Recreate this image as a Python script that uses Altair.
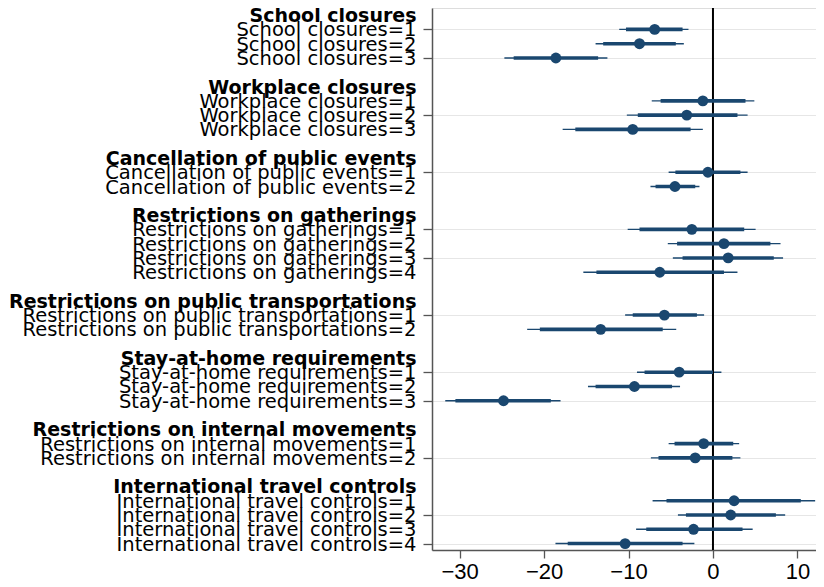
import altair as alt
import pandas as pd

# ---- data ----
groups = [
    "School closures",
    "Workplace closures",
    "Cancellation of public events",
    "Restrictions on gatherings",
    "Restrictions on public transportations",
    "Stay-at-home requirements",
    "Restrictions on internal movements",
    "International travel controls",
]
levels = [3, 3, 2, 4, 2, 3, 2, 4]

estimate = [-6.9, -8.7, -18.6,
            -1.2, -3.1, -9.5,
            -0.6, -4.5,
            -2.5, 1.3, 1.8, -6.3,
            -5.75, -13.3,
            -4.0, -9.3, -24.8,
            -1.1, -2.1,
            2.5, 2.1, -2.3, -10.4]
inner_low = [-10.3, -13.0, -23.6,
             -6.2, -8.9, -16.3,
             -4.45, -6.8,
             -8.7, -4.25, -3.6, -13.8,
             -9.5, -20.5,
             -8.1, -13.9, -30.5,
             -4.55, -6.45,
             -5.5, -3.2, -7.9, -17.2]
inner_high = [-3.6, -4.4, -13.6,
              3.85, 2.9, -2.65,
              3.25, -2.1,
              3.7, 6.8, 7.2, 1.3,
              -1.9, -5.95,
              0.0, -4.85, -19.2,
              2.4, 2.3,
              10.4, 7.45, 3.5, -3.6]
outer_low = [-11.1, -13.9, -24.7,
             -7.25, -10.2, -17.8,
             -5.25, -7.4,
             -10.1, -5.35, -4.75, -15.35,
             -10.4, -22.0,
             -9.0, -14.8, -31.7,
             -5.25, -7.35,
             -7.15, -4.15, -9.1, -18.65]
outer_high = [-2.9, -3.45, -12.5,
              4.9, 4.1, -1.2,
              4.1, -1.6,
              5.05, 8.0, 8.3, 2.9,
              -1.05, -4.35,
              1.0, -3.9, -18.05,
              3.1, 3.25,
              12.1, 8.55, 4.7, -2.2]
x_ticks = [-30, -20, -10, 0, 10]

# ---- build the table (rows: header, items, blank between groups) ----
item_rows, head_rows = [], []
row = 0
k = 0
for g, n in zip(groups, levels):
    head_rows.append({"row": row, "label": g})
    row += 1
    for j in range(1, n + 1):
        item_rows.append({
            "row": row, "label": f"{g}={j}",
            "est": estimate[k], "lo90": inner_low[k], "hi90": inner_high[k],
            "lo95": outer_low[k], "hi95": outer_high[k],
        })
        k += 1
        row += 1
    row += 1  # blank gap row

items = pd.DataFrame(item_rows)
heads = pd.DataFrame(head_rows)
item_positions = items["row"].tolist()

NAVY = "#1a476f"
X_DOMAIN = [-33.27, 12.2]
Y_DOMAIN = [-0.5, 37.45]

yscale = alt.Scale(domain=Y_DOMAIN, reverse=True, nice=False, zero=False)
xscale = alt.Scale(domain=X_DOMAIN, nice=False, zero=False)

y_axis = alt.Axis(values=item_positions, labels=False, title=None, grid=True,
                  gridColor="#e6e6e6", gridWidth=1.2, tickSize=9,
                  tickColor="#555555", tickWidth=1.3, domainColor="#555555",
                  domainWidth=1.5)
x_axis = alt.Axis(values=x_ticks, format="d", title=None, grid=False,
                  tickSize=8, tickColor="#555555", tickWidth=1.3,
                  domainColor="#555555", domainWidth=1.5,
                  labelFont="Liberation Sans", labelFontSize=22,
                  labelColor="#000000", labelPadding=3)

base = alt.Chart(items)

outer = base.mark_rule(color=NAVY, strokeWidth=1.4).encode(
    x=alt.X("lo95:Q", scale=xscale, axis=x_axis),
    x2="hi95:Q",
    y=alt.Y("row:Q", scale=yscale, axis=y_axis),
)
inner = base.mark_rule(color=NAVY, strokeWidth=3.6).encode(
    x=alt.X("lo90:Q", scale=xscale),
    x2="hi90:Q",
    y=alt.Y("row:Q", scale=yscale),
)
points = base.mark_circle(color=NAVY, size=118, opacity=1).encode(
    x=alt.X("est:Q", scale=xscale),
    y=alt.Y("row:Q", scale=yscale),
)
zero = alt.Chart(pd.DataFrame({"x": [0]})).mark_rule(color="#000000", strokeWidth=2).encode(
    x=alt.X("x:Q", scale=xscale),
)
item_text = base.mark_text(align="right", baseline="alphabetic", dy=7,
                           font="DejaVu Sans", fontSize=19.5, color="#000000").encode(
    x=alt.value(-15.5),
    y=alt.Y("row:Q", scale=yscale),
    text="label:N",
)
head_text = alt.Chart(heads).mark_text(align="right", baseline="alphabetic", dy=7,
                                       font="DejaVu Sans", fontSize=19.0,
                                       fontWeight="bold", color="#000000").encode(
    x=alt.value(-15.5),
    y=alt.Y("row:Q", scale=yscale),
    text="label:N",
)

chart = alt.layer(outer, zero, inner, points, item_text, head_text).properties(
    width=384, height=542,
    autosize=alt.AutoSizeParams(type="none"),
    padding={"left": 424, "top": 0, "right": 0, "bottom": 33},
).configure_view(stroke=None).configure(background="white")

chart.save("out.html", embed_options={"renderer": "svg", "actions": False})
